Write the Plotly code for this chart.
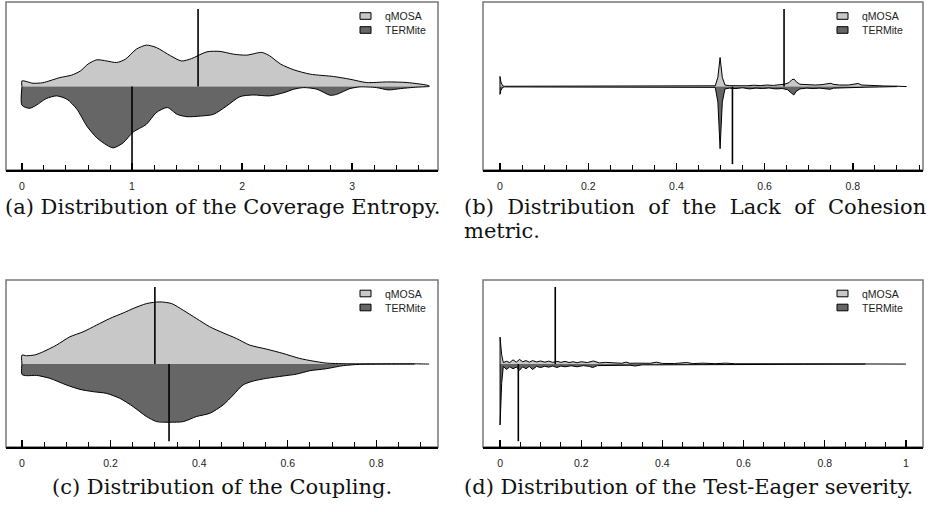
import plotly.graph_objects as go

SERIES = ["qMOSA", "TERMite"]

# ---- (a) Coverage Entropy: half-violin profiles (x, relative density) ----
A_Q_X = [0.0, 0.10, 0.19, 0.345, 0.45, 0.53, 0.60, 0.68, 0.77, 0.86, 0.94, 1.04, 1.13, 1.22, 1.35, 1.45,
         1.54, 1.68, 1.80, 1.92, 2.04, 2.18, 2.25, 2.35, 2.47, 2.62, 2.83, 2.98, 3.13, 3.32, 3.50, 3.70]
A_Q_H = [0.073, 0.043, 0.05, 0.116, 0.147, 0.20, 0.29, 0.345, 0.33, 0.31, 0.353, 0.483, 0.534, 0.504, 0.397, 0.33,
         0.36, 0.448, 0.453, 0.418, 0.405, 0.44, 0.397, 0.29, 0.216, 0.16, 0.13, 0.095, 0.052, 0.06, 0.052, 0.01]
A_T_X = [0.0, 0.07, 0.13, 0.22, 0.315, 0.41, 0.50, 0.59, 0.68, 0.77, 0.83, 0.92, 1.01, 1.13, 1.22, 1.32, 1.41,
         1.50, 1.62, 1.74, 1.86, 1.98, 2.10, 2.25, 2.38, 2.47, 2.56, 2.68, 2.80, 2.86, 2.98, 3.07, 3.22, 3.33,
         3.44, 3.56, 3.70]
A_T_H = [0.241, 0.28, 0.24, 0.155, 0.12, 0.164, 0.293, 0.51, 0.66, 0.754, 0.79, 0.724, 0.586, 0.487, 0.336, 0.27,
         0.358, 0.388, 0.38, 0.358, 0.25, 0.13, 0.108, 0.12, 0.078, 0.034, 0.013, 0.034, 0.112, 0.10, 0.026,
         0.004, 0.013, 0.043, 0.026, 0.01, 0.0]
A_MEDIANS = [1.6, 1.0]
A_TICKS = [0, 1, 2, 3]
A_TICKTEXT = ["0", "1", "2", "3"]

# ---- (b) Lack of Cohesion ----
B_Q_X = [0.0, 0.002, 0.006, 0.01, 0.47, 0.488, 0.494, 0.499, 0.504, 0.51, 0.52, 0.53, 0.545, 0.56, 0.575,
         0.59, 0.605, 0.62, 0.635, 0.645, 0.655, 0.662, 0.667, 0.672, 0.68, 0.69, 0.70, 0.715, 0.73, 0.745,
         0.75, 0.755, 0.77, 0.79, 0.805, 0.812, 0.82, 0.84, 0.87, 0.90, 0.922]
B_Q_H = [0.13, 0.06, 0.01, 0.004, 0.004, 0.01, 0.12, 0.375, 0.12, 0.02, 0.012, 0.01, 0.015, 0.01, 0.018,
         0.012, 0.02, 0.015, 0.025, 0.03, 0.05, 0.09, 0.095, 0.06, 0.03, 0.025, 0.02, 0.02, 0.025, 0.04,
         0.043, 0.03, 0.02, 0.02, 0.03, 0.04, 0.02, 0.012, 0.008, 0.005, 0.0]
B_T_X = [0.0, 0.002, 0.006, 0.01, 0.47, 0.488, 0.494, 0.499, 0.504, 0.51, 0.52, 0.535, 0.55, 0.565, 0.58,
         0.595, 0.61, 0.625, 0.64, 0.652, 0.66, 0.666, 0.672, 0.68, 0.695, 0.71, 0.725, 0.74, 0.748, 0.756,
         0.775, 0.80, 0.83, 0.86, 0.90]
B_T_H = [0.10, 0.05, 0.01, 0.004, 0.004, 0.01, 0.20, 0.80, 0.20, 0.03, 0.02, 0.025, 0.015, 0.03, 0.02,
         0.025, 0.018, 0.03, 0.025, 0.04, 0.08, 0.108, 0.06, 0.03, 0.02, 0.025, 0.02, 0.03, 0.035, 0.02,
         0.015, 0.01, 0.008, 0.005, 0.0]
B_MEDIANS = [0.644, 0.527]
B_TICKS = [0, 0.2, 0.4, 0.6, 0.8]
B_TICKTEXT = ["0", "0.2", "0.4", "0.6", "0.8"]

# ---- (c) Coupling ----
C_Q_X = [0.0, 0.01, 0.03, 0.048, 0.078, 0.108, 0.138, 0.168, 0.198, 0.229, 0.251, 0.281, 0.311, 0.338,
         0.364, 0.394, 0.424, 0.454, 0.484, 0.514, 0.552, 0.589, 0.627, 0.657, 0.687, 0.732, 0.886, 0.919]
C_Q_H = [0.116, 0.108, 0.12, 0.16, 0.246, 0.353, 0.418, 0.504, 0.59, 0.664, 0.72, 0.784, 0.806, 0.784,
         0.698, 0.59, 0.483, 0.405, 0.332, 0.246, 0.194, 0.138, 0.073, 0.039, 0.013, 0.004, 0.003, 0.0]
C_T_X = [0.0, 0.01, 0.033, 0.063, 0.10, 0.131, 0.161, 0.191, 0.221, 0.251, 0.281, 0.304, 0.334, 0.364,
         0.394, 0.424, 0.454, 0.477, 0.499, 0.522, 0.552, 0.589, 0.62, 0.65, 0.687, 0.725, 0.762, 0.886]
C_T_H = [0.134, 0.15, 0.147, 0.185, 0.27, 0.328, 0.358, 0.38, 0.444, 0.552, 0.68, 0.746, 0.754, 0.746,
         0.68, 0.638, 0.53, 0.40, 0.27, 0.22, 0.185, 0.155, 0.13, 0.086, 0.06, 0.02, 0.004, 0.0]
C_MEDIANS = [0.30, 0.332]
C_TICKS = [0, 0.2, 0.4, 0.6, 0.8]
C_TICKTEXT = ["0", "0.2", "0.4", "0.6", "0.8"]

# ---- (d) Test-Eager severity ----
D_Q_X = [0.0, 0.004, 0.008, 0.016, 0.024, 0.032, 0.04, 0.048, 0.056, 0.064, 0.072, 0.08, 0.09, 0.10, 0.11,
         0.12, 0.13, 0.14, 0.15, 0.16, 0.17, 0.18, 0.19, 0.20, 0.215, 0.23, 0.245, 0.26, 0.28, 0.30, 0.31,
         0.32, 0.335, 0.35, 0.37, 0.385, 0.40, 0.43, 0.46, 0.475, 0.50, 0.53, 0.556, 0.58, 0.62, 0.667, 0.70,
         0.75, 0.778, 0.80, 0.85, 0.90, 0.95, 1.0]
D_Q_H = [0.35, 0.12, 0.02, 0.035, 0.02, 0.055, 0.025, 0.06, 0.03, 0.045, 0.025, 0.045, 0.028, 0.04, 0.025,
         0.038, 0.022, 0.036, 0.022, 0.035, 0.02, 0.03, 0.018, 0.03, 0.02, 0.04, 0.015, 0.022, 0.012, 0.01,
         0.025, 0.01, 0.012, 0.008, 0.01, 0.024, 0.008, 0.007, 0.02, 0.006, 0.012, 0.005, 0.012, 0.004, 0.004,
         0.012, 0.003, 0.003, 0.012, 0.003, 0.002, 0.002, 0.002, 0.0]
D_T_X = [0.0, 0.004, 0.008, 0.016, 0.024, 0.032, 0.04, 0.048, 0.056, 0.064, 0.072, 0.08, 0.09, 0.10, 0.11,
         0.12, 0.13, 0.14, 0.15, 0.16, 0.175, 0.19, 0.205, 0.22, 0.228, 0.24, 0.26, 0.28, 0.30, 0.32, 0.333,
         0.35, 0.38, 0.42, 0.46, 0.50, 0.55, 0.60, 0.65, 0.70, 0.75, 0.80, 0.85, 0.90]
D_T_H = [0.79, 0.25, 0.03, 0.07, 0.035, 0.06, 0.04, 0.08, 0.035, 0.06, 0.03, 0.07, 0.03, 0.045, 0.028,
         0.04, 0.025, 0.045, 0.025, 0.035, 0.022, 0.035, 0.02, 0.03, 0.045, 0.02, 0.018, 0.02, 0.012, 0.015,
         0.025, 0.01, 0.01, 0.008, 0.008, 0.006, 0.005, 0.005, 0.004, 0.004, 0.003, 0.003, 0.002, 0.0]
D_MEDIANS = [0.136, 0.045]
D_TICKS = [0, 0.2, 0.4, 0.6, 0.8, 1]
D_TICKTEXT = ["0", "0.2", "0.4", "0.6", "0.8", "1"]

NB = "\u00a0"
CAPTIONS = ["(a) Distribution of the Coverage Entropy.",
            ("(b) Distribution of the Lack of Cohesion").replace(" ", " " + NB),
            "metric.",
            "(c) Distribution of the Coupling.",
            "(d) Distribution of the Test-Eager severity."]

# ---------------- styling / layout ----------------
W, H = 938, 512
FILLS = ["#c8c8c8", "#666666"]

def px(v, total):
    return v / total

panels = [
    dict(data=(A_Q_X, A_Q_H, A_T_X, A_T_H, A_MEDIANS, A_TICKS, A_TICKTEXT), shape="spline",
         xpx=(6, 438), ypx=(2, 170), xr=(-0.145, 3.78), minor=0.2, leg=(360, 16)),
    dict(data=(B_Q_X, B_Q_H, B_T_X, B_T_H, B_MEDIANS, B_TICKS, B_TICKTEXT), shape="linear",
         xpx=(483, 923), ypx=(2, 170), xr=(-0.0385, 0.959), minor=0.05, leg=(837, 16)),
    dict(data=(C_Q_X, C_Q_H, C_T_X, C_T_H, C_MEDIANS, C_TICKS, C_TICKTEXT), shape="spline",
         xpx=(6, 438), ypx=(280, 447), xr=(-0.036, 0.939), minor=0.05, leg=(360, 293.5)),
    dict(data=(D_Q_X, D_Q_H, D_T_X, D_T_H, D_MEDIANS, D_TICKS, D_TICKTEXT), shape="linear",
         xpx=(483, 923), ypx=(280, 447), xr=(-0.042, 1.042), minor=0.05, leg=(837, 293.5)),
]

fig = go.Figure()
layout = dict(width=W, height=H, autosize=False, margin=dict(l=0, r=0, t=0, b=0),
              paper_bgcolor="white", plot_bgcolor="white", showlegend=False, shapes=[], annotations=[])

LEG_FONT = dict(family="Liberation Sans, Arial, sans-serif", size=10.5, color="#222")

for i, p in enumerate(panels, start=1):
    qx, qh, tx, th, med, tv, tt = p["data"]
    sfx = "" if i == 1 else str(i)
    xa, ya = "x" + sfx, "y" + sfx
    # qMOSA (upper half)
    fig.add_trace(go.Scatter(
        x=[qx[0]] + qx + [qx[-1]], y=[0] + qh + [0], fill="toself", fillcolor=FILLS[0],
        line=dict(color="black", width=1, shape=p["shape"], smoothing=0.7), mode="lines",
        name=SERIES[0], xaxis=xa, yaxis=ya, hoverinfo="skip"))
    # TERMite (lower half)
    fig.add_trace(go.Scatter(
        x=[tx[0]] + tx + [tx[-1]], y=[0] + [-v for v in th] + [0], fill="toself", fillcolor=FILLS[1],
        line=dict(color="black", width=1, shape=p["shape"], smoothing=0.7), mode="lines",
        name=SERIES[1], xaxis=xa, yaxis=ya, hoverinfo="skip"))
    # medians
    fig.add_trace(go.Scatter(x=[med[0], med[0]], y=[0, 1], mode="lines",
                             line=dict(color="black", width=1.6), xaxis=xa, yaxis=ya, hoverinfo="skip"))
    fig.add_trace(go.Scatter(x=[med[1], med[1]], y=[0, -1], mode="lines",
                             line=dict(color="black", width=1.6), xaxis=xa, yaxis=ya, hoverinfo="skip"))

    x0, x1 = p["xpx"]
    y0, y1 = p["ypx"]
    layout["xaxis" + sfx] = dict(
        domain=[px(x0, W), px(x1, W)], range=list(p["xr"]), anchor=ya,
        tickvals=tv, ticktext=tt, ticks="inside", ticklen=7, tickwidth=1.3, tickcolor="black",
        minor=dict(ticks="inside", ticklen=5, tickwidth=1, tickcolor="black", dtick=p["minor"], tick0=0),
        showline=True, linecolor="black", linewidth=2, showgrid=False, zeroline=False,
        tickfont=dict(family="Liberation Sans, Arial, sans-serif", size=10.5, color="#222"),
        ticklabelstandoff=5, fixedrange=True)
    layout["yaxis" + sfx] = dict(
        domain=[1 - px(y1, H), 1 - px(y0, H)], range=[-1.075, 1.09], anchor=xa,
        showticklabels=False, ticks="", showgrid=False, zeroline=False, showline=False, fixedrange=True)
    layout["shapes"].append(dict(type="rect", xref=xa + " domain", yref=ya + " domain",
                                 x0=0, x1=1, y0=0, y1=1, line=dict(color="#777", width=1.5),
                                 layer="below"))
    # legend (key squares + labels)
    lx, ly = p["leg"]
    for k, name in enumerate(SERIES):
        cy = ly + 14 * k
        layout["shapes"].append(dict(type="rect", xref="paper", yref="paper",
                                     x0=px(lx, W), x1=px(lx + 11, W),
                                     y0=1 - px(cy + 3.3, H), y1=1 - px(cy - 3.3, H),
                                     fillcolor=FILLS[k], line=dict(color="black", width=1)))
        layout["annotations"].append(dict(text=name, x=px(lx + 23, W), y=1 - px(cy, H),
                                          xref="paper", yref="paper", xanchor="left", yanchor="middle",
                                          showarrow=False, font=LEG_FONT))

CAP_FONT = dict(family="DejaVu Serif, serif", size=21, color="#111")
cap_pos = [(223, 207, "center"), (462, 207, "left"), (462, 231, "left"), (222, 487, "center"),
           (462, 487, "left")]
for text, (cx, cy, anc) in zip(CAPTIONS, cap_pos):
    layout["annotations"].append(dict(text=text, x=px(cx, W), y=1 - px(cy, H), xref="paper", yref="paper",
                                      xanchor=anc, yanchor="middle", showarrow=False, font=CAP_FONT))

fig.update_layout(**layout)
fig.write_html("out.html", config={"displayModeBar": False, "staticPlot": True},
               post_script="document.body.style.margin='0px';")
